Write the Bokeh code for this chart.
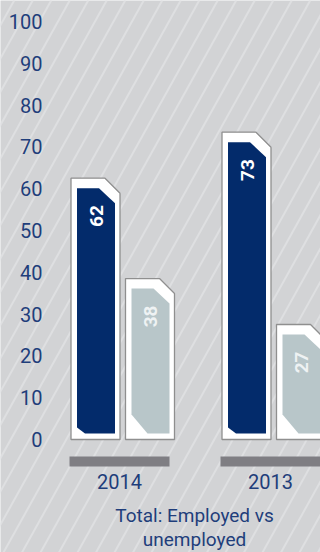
import numpy as np
from bokeh.plotting import figure
from bokeh.models import Range1d, ColumnDataSource, LabelSet, Label
from bokeh.core.properties import value
from bokeh.embed import file_html
from bokeh.resources import INLINE

# ---- data ----
years = ["2014", "2013"]
employed = [62, 73]
unemployed = [38, 27]
y_ticks = [0, 10, 20, 30, 40, 50, 60, 70, 80, 90, 100]
y_tick_labels = ["0", "10", "20", "30", "40", "50", "60", "70", "80", "90", "100"]
title_lines = ["Total: Employed vs", "unemployed"]

# ---- style / layout ----
W, H = 320, 552
FONT = "Roboto"
TXT = "#1f3e7b"
BG = "#d2d3d5"
STRIPE = "#dedfe1"
DARK = "#032b6b"
LIGHT = "#b8c6c9"
FRAME_LINE = "#8f8f8f"
PX_X = 151.0          # px per category unit
CAT0_PX = 119.0       # px of first category centre
PX_Y = 4.181          # px per value unit
ZERO_PX = 439.0       # px (from top) of value 0

x_start = -CAT0_PX / PX_X
y_start = -(H - ZERO_PX) / PX_Y

p = figure(width=W, height=H, output_backend="svg", toolbar_location=None,
           x_range=Range1d(x_start, x_start + W / PX_X),
           y_range=Range1d(y_start, y_start + H / PX_Y),
           x_axis_type=None, y_axis_type=None, min_border=0,
           background_fill_color=BG, border_fill_color=BG, outline_line_color=None)
p.grid.visible = False
p.extra_x_ranges = {"px": Range1d(0, W)}
p.extra_y_ranges = {"py": Range1d(0, H)}

# background diagonal stripes (decoration, pixel space)
slope = 1.8
xs0 = np.arange(-330, 340, 18.5)
p.multi_line(xs=[[a, a + H / slope] for a in xs0], ys=[[0, H] for _ in xs0],
             line_color=STRIPE, line_width=2.0, x_range_name="px", y_range_name="py")

cat_x = np.arange(len(years), dtype=float)

def dx(px):
    return px / PX_X

def dy(px):
    return px / PX_Y

half_w = dx(24.5)
offsets = {"emp": dx(-24.0), "unemp": dx(30.5)}

def frame_and_inner(center, val, bl_cx, bl_cy):
    left, right = center - half_w, center + half_w
    top = val + 0.5
    fx = [left, left, right - dx(15), right, right]
    fy = [0, top, top, top - dy(15), 0]
    il, ir = left + dx(6), right - dx(5)
    ib, it = dy(6), top - dy(10)
    ix = [il, il, ir - dx(16), ir, ir, il + bl_cx]
    iy = [ib + bl_cy, it, it, it - dy(15), ib, ib]
    return fx, fy, ix, iy, (il + ir) / 2, it

series = [("emp", employed, DARK, "#ffffff", dx(8), dy(6)),
          ("unemp", unemployed, LIGHT, "#eef2f3", dx(16), dy(19))]

for key, vals, col, tcol, blx, bly in series:
    fxs, fys, ixs, iys, tx, ty, tt = [], [], [], [], [], [], []
    for c, v in zip(cat_x, vals):
        fx, fy, ix, iy, cx, it = frame_and_inner(c + offsets[key], v, blx, bly)
        fxs.append(fx); fys.append(fy); ixs.append(ix); iys.append(iy)
        tx.append(cx); ty.append(it - dy(17)); tt.append(str(v))
    p.patches(fxs, fys, fill_color="#ffffff", line_color=FRAME_LINE, line_width=1.3)
    p.patches(ixs, iys, fill_color=col, line_color=None)
    p.text(x=tx, y=ty, text=tt, angle=np.pi / 2, text_align="right",
           text_baseline="middle", text_color=tcol, text_font=value(FONT),
           text_font_style="bold", text_font_size="19px")

# category underline bars (x in data, y in pixel space)
p.quad(left=cat_x - dx(50), right=cat_x + dx(50), bottom=H - 466, top=H - 456,
       fill_color="#7f7e83", line_color=None, y_range_name="py")

# category labels
cat_src = ColumnDataSource(dict(x=cat_x, y=[H - 481] * len(years), t=years))
p.add_layout(LabelSet(x="x", y="y", text="t", source=cat_src, y_units="screen",
                      text_align="center", text_baseline="middle",
                      text_color=TXT, text_font=value(FONT), text_font_size="20px"))

# y tick labels
tick_src = ColumnDataSource(dict(x=[42] * len(y_ticks), y=y_ticks, t=y_tick_labels))
p.add_layout(LabelSet(x="x", y="y", text="t", source=tick_src, x_units="screen",
                      text_align="right", text_baseline="middle",
                      text_color=TXT, text_font=value(FONT), text_font_size="20px"))

# title (two lines)
for i, line in enumerate(title_lines):
    p.add_layout(Label(x=194, y=H - 515 - 24 * i, x_units="screen", y_units="screen",
                       text=line, text_align="center", text_baseline="middle",
                       text_color=TXT, text_font=FONT, text_font_size="19px"))

open("out.html", "w").write(file_html(p, INLINE))
